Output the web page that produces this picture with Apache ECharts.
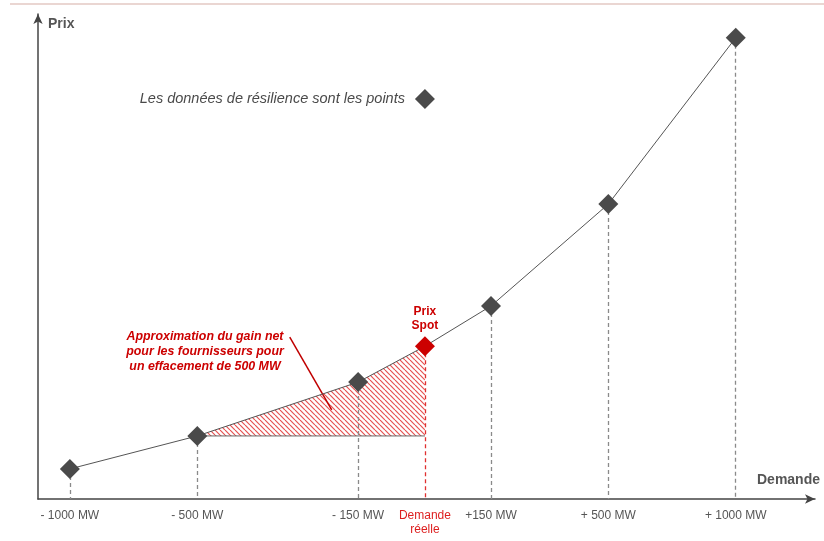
<!DOCTYPE html>
<html>
<head>
<meta charset="utf-8">
<script src="https://cdn.jsdelivr.net/npm/echarts@6/dist/echarts.min.js"></script>
<style>
  html, body { margin: 0; padding: 0; background: #ffffff; }
  #chart { width: 824px; height: 541px; }
</style>
</head>
<body>
<div id="chart"></div>
<script>
// Demand scenarios (schematic position on the demand axis) and the resulting price level
const demandLabels = ['- 1000 MW', '- 500 MW', '- 150 MW', 'Demande\nréelle', '+150 MW', '+ 500 MW', '+ 1000 MW'];
const demandPos    = [4.1, 20.5, 41.2, 49.8, 58.3, 73.4, 89.8];
const priceLevel   = [6.2, 13.0, 24.1, 31.5, 39.8, 60.8, 95.1];
const spotIndex    = 3;       // the actual demand / spot price point
const gainFromIndex = 1;      // the -500 MW point starts the shaded gain area

// Legend marker position and pointer of the annotation (axis units)
const legendPoint  = [49.8, 82.5];
const pointerLine  = [[32.4, 33.4], [37.8, 18.4]];

const GREY = '#4a4a4a';
const RED = '#cc0000';
const HATCH_RED = '#e65252';
const FONT = 'Liberation Sans, Arial, sans-serif';

// Diagonal hatch pattern for the gain area
function hatchPattern() {
  const s = 5;
  const c = document.createElement('canvas');
  c.width = s; c.height = s;
  const ctx = c.getContext('2d');
  ctx.fillStyle = '#ffffff';
  ctx.fillRect(0, 0, s, s);
  ctx.strokeStyle = HATCH_RED;
  ctx.lineWidth = 1.2;
  for (let k = -1; k <= 1; k++) {
    ctx.beginPath();
    ctx.moveTo(k * s, 0);
    ctx.lineTo(k * s + s, s);
    ctx.stroke();
  }
  return { image: c, repeat: 'repeat' };
}

const curve = demandPos.map((x, i) => [x, priceLevel[i]]);
const baseLevel = priceLevel[gainFromIndex];
const gainArea = curve.slice(gainFromIndex, spotIndex + 1);
const baseLine = [[demandPos[gainFromIndex], baseLevel], [demandPos[spotIndex], baseLevel]];

const dropLines = curve.map((p, i) => [
  { coord: p, lineStyle: { color: i === spotIndex ? '#e03030' : '#8a8a8a' } },
  { coord: [p[0], 0] }
]);

const chart = echarts.init(document.getElementById('chart'));
chart.setOption({
  animation: false,
  backgroundColor: '#ffffff',
  grid: { left: 38, right: 9, top: 14, bottom: 42 },
  xAxis: {
    type: 'value', min: 0, max: 100,
    splitLine: { show: false },
    axisTick: { show: false },
    axisLine: { lineStyle: { color: '#444', width: 1.5 }, symbol: ['none', 'arrow'], symbolSize: [7, 10] },
    axisLabel: {
      customValues: demandPos,
      margin: 10,
      fontSize: 12,
      fontFamily: FONT,
      color: '#555',
      lineHeight: 14,
      formatter: function (v) {
        const i = demandPos.indexOf(v);
        if (i < 0) return '';
        if (i === spotIndex) return demandLabels[i].split('\n').map(t => '{r|' + t + '}').join('\n');
        return demandLabels[i];
      },
      rich: { r: { color: '#dd1f1f', fontSize: 12, lineHeight: 14, fontFamily: FONT } }
    }
  },
  yAxis: {
    type: 'value', min: 0, max: 100,
    splitLine: { show: false },
    axisTick: { show: false },
    axisLabel: { show: false },
    axisLine: { show: true, lineStyle: { color: '#444', width: 1.5 }, symbol: ['none', 'arrow'], symbolSize: [7, 10] }
  },
  graphic: [
    { type: 'rect', left: 10, top: 3, shape: { width: 814, height: 2 }, style: { fill: '#ead6d2' }, silent: true },
    { type: 'text', left: 48, top: 17, style: { text: 'Prix', font: 'bold 14px ' + FONT, fill: '#555' } },
    { type: 'text', right: 4, top: 473, style: { text: 'Demande', font: 'bold 14px ' + FONT, fill: '#555' } },
    { type: 'text', x: 205, y: 329, style: {
        text: 'Approximation du gain net\npour les fournisseurs pour\nun effacement de 500 MW',
        font: 'italic bold 12.4px ' + FONT,
        fill: RED, align: 'center', verticalAlign: 'top', lineHeight: 15
      } }
  ],
  series: [
    {
      name: 'gain',
      type: 'line',
      data: gainArea,
      symbol: 'none',
      silent: true,
      z: 1,
      lineStyle: { width: 0, opacity: 0 },
      areaStyle: { origin: baseLevel, color: hatchPattern(), opacity: 1 },
      markLine: {
        silent: true, symbol: 'none', z: 2,
        lineStyle: { color: '#c00000', width: 1.5, type: 'solid' },
        label: { show: false },
        data: [[{ coord: pointerLine[0] }, { coord: pointerLine[1] }]]
      }
    },
    {
      name: 'reperes',
      type: 'line',
      data: [],
      silent: true,
      z: 2,
      markLine: {
        silent: true, symbol: 'none', z: 2,
        lineStyle: { type: [4, 3], width: 1.3 },
        label: { show: false },
        data: dropLines
      }
    },
    {
      name: 'base',
      type: 'line',
      data: baseLine,
      symbol: 'none',
      silent: true,
      z: 2,
      lineStyle: { color: '#666', width: 1 }
    },
    {
      name: 'prix',
      type: 'line',
      data: curve.map((p, i) => i === spotIndex ? {
        value: p,
        itemStyle: { color: RED },
        label: {
          show: true, position: 'top', distance: 4,
          formatter: 'Prix\nSpot', color: RED, fontWeight: 'bold', fontSize: 12, lineHeight: 14,
          fontFamily: FONT
        }
      } : p),
      symbol: 'diamond',
      symbolSize: 20,
      z: 3,
      itemStyle: { color: GREY, opacity: 1 },
      lineStyle: { color: '#555', width: 1 }
    },
    {
      name: 'legende',
      type: 'scatter',
      data: [legendPoint],
      symbol: 'diamond',
      symbolSize: 20,
      z: 3,
      itemStyle: { color: GREY, opacity: 1 },
      label: {
        show: true, position: 'left', distance: 10,
        formatter: 'Les données de résilience sont les points',
        fontStyle: 'italic', fontSize: 14.5, color: '#4a4a4a',
        fontFamily: FONT
      }
    }
  ]
});
</script>
</body>
</html>
